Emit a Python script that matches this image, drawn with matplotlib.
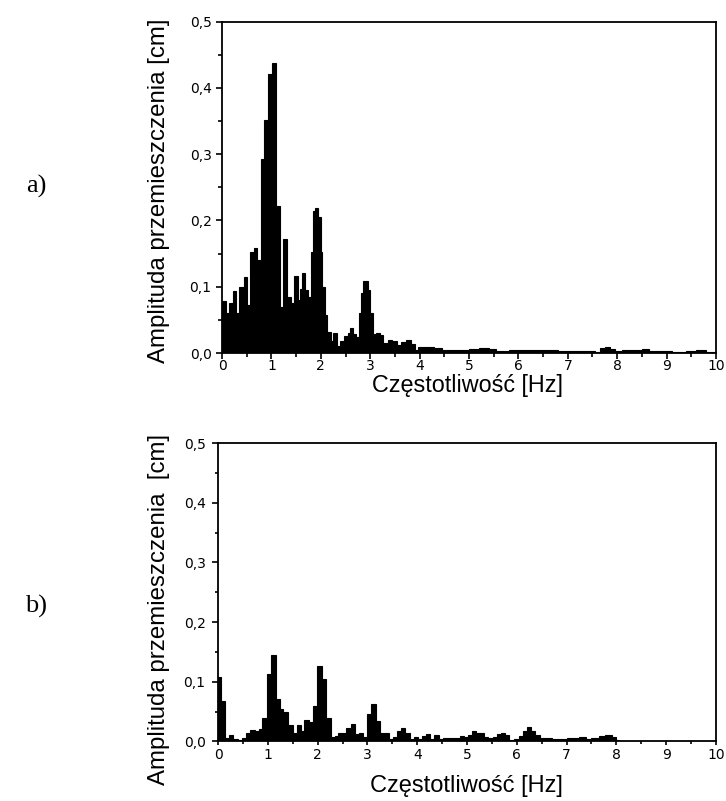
import numpy as np
import matplotlib
matplotlib.use("Agg")
import matplotlib.pyplot as plt
from matplotlib.ticker import MultipleLocator, FuncFormatter

# a) widmo amplitudy - krawedzie przedzialow [Hz] i amplitudy [cm]
edges_a = [0.0, 0.088, 0.135, 0.223, 0.291, 0.345, 0.439, 0.507, 0.561, 0.642,
           0.716, 0.791, 0.845, 0.932, 1.013, 1.101, 1.176, 1.23, 1.31, 1.40,
           1.45, 1.53, 1.57, 1.62, 1.69, 1.74, 1.80, 1.84, 1.89, 1.95,
           2.00, 2.03, 2.08, 2.13, 2.20, 2.25, 2.33, 2.39, 2.47, 2.55,
           2.59, 2.66, 2.72, 2.77, 2.81, 2.86, 2.91, 2.96, 3.00, 3.05,
           3.11, 3.20, 3.26, 3.36, 3.44, 3.55, 3.63, 3.72, 3.82, 3.90,
           3.97, 4.15, 4.30, 4.46, 4.60, 4.80, 5.00, 5.20, 5.40, 5.55,
           5.80, 6.00, 6.30, 6.60, 6.80, 7.00, 7.30, 7.55, 7.65, 7.75,
           7.85, 7.95, 8.10, 8.30, 8.50, 8.65, 8.90, 9.10, 9.40, 9.60,
           9.80, 10.0]
amp_a = [0.078, 0.060, 0.076, 0.093, 0.060, 0.099, 0.114, 0.072, 0.152, 0.158,
         0.141, 0.293, 0.352, 0.421, 0.437, 0.222, 0.070, 0.172, 0.085, 0.075,
         0.116, 0.080, 0.097, 0.120, 0.095, 0.085, 0.152, 0.215, 0.219, 0.205,
         0.152, 0.099, 0.058, 0.031, 0.018, 0.030, 0.010, 0.018, 0.026, 0.030,
         0.038, 0.028, 0.024, 0.060, 0.090, 0.108, 0.109, 0.095, 0.060, 0.028,
         0.030, 0.027, 0.015, 0.019, 0.018, 0.012, 0.016, 0.019, 0.013, 0.005,
         0.009, 0.009, 0.007, 0.005, 0.0045, 0.004, 0.0065, 0.007, 0.006, 0.0035,
         0.004, 0.005, 0.0045, 0.004, 0.003, 0.0035, 0.003, 0.002, 0.0075, 0.009,
         0.006, 0.0035, 0.004, 0.005, 0.006, 0.003, 0.0025, 0.002, 0.0035, 0.004,
         0.0015]

# b)
edges_b = [0.0, 0.067, 0.147, 0.213, 0.30, 0.40, 0.48, 0.567, 0.647, 0.733,
           0.813, 0.893, 0.98, 1.067, 1.16, 1.247, 1.313, 1.413, 1.50, 1.58,
           1.667, 1.733, 1.827, 1.913, 1.98, 2.08, 2.167, 2.26, 2.347, 2.413,
           2.50, 2.58, 2.667, 2.747, 2.833, 2.92, 3.00, 3.08, 3.18, 3.26,
           3.347, 3.427, 3.513, 3.60, 3.667, 3.76, 3.847, 3.933, 4.013, 4.093,
           4.18, 4.267, 4.347, 4.433, 4.52, 4.85, 4.933, 5.013, 5.093, 5.18,
           5.26, 5.347, 5.427, 5.513, 5.60, 5.68, 5.76, 5.847, 5.95, 6.05,
           6.12, 6.20, 6.28, 6.36, 6.46, 6.70, 7.00, 7.25, 7.38, 7.50,
           7.65, 7.78, 7.92, 8.00, 8.05, 10.0]
amp_b = [0.108, 0.068, 0.006, 0.011, 0.004, 0.002, 0.006, 0.015, 0.020, 0.017,
         0.021, 0.039, 0.113, 0.145, 0.071, 0.054, 0.050, 0.028, 0.014, 0.028,
         0.018, 0.036, 0.032, 0.060, 0.126, 0.105, 0.040, 0.007, 0.0095, 0.015,
         0.014, 0.022, 0.029, 0.013, 0.014, 0.008, 0.046, 0.063, 0.035, 0.014,
         0.014, 0.004, 0.007, 0.017, 0.022, 0.014, 0.004, 0.008, 0.004, 0.0095,
         0.012, 0.004, 0.011, 0.004, 0.0056, 0.0095, 0.007, 0.011, 0.017, 0.015,
         0.015, 0.008, 0.0056, 0.008, 0.012, 0.015, 0.011, 0.003, 0.004, 0.009,
         0.018, 0.025, 0.018, 0.011, 0.006, 0.0045, 0.0056, 0.007, 0.0045, 0.006,
         0.0084, 0.011, 0.0073, 0.002, 0.0]

xlabel = "Częstotliwość [Hz]"
ylabels = ["Amplituda przemieszczenia [cm]", "Amplituda przemieszczenia  [cm]"]
panel_tags = ["a)", "b)"]

plt.rcParams['font.family'] = ['Liberation Sans', 'DejaVu Sans']

fig = plt.figure(figsize=(7.26, 8.01), dpi=100)
ax_a = fig.add_axes([0.3058, 0.5593, 0.6804, 0.4136])
ax_b = fig.add_axes([0.3003, 0.0743, 0.6859, 0.3726])

comma = FuncFormatter(lambda v, p: f"{v:.1f}".replace(".", ","))

for ax, edges, amp in [(ax_a, edges_a, amp_a), (ax_b, edges_b, amp_b)]:
    ax.stairs(amp, edges, fill=True, facecolor='black', edgecolor='black',
              linewidth=0.8)
    ax.set_xlim(0, 10)
    ax.set_ylim(0, 0.5)
    ax.xaxis.set_major_locator(MultipleLocator(1))
    ax.xaxis.set_minor_locator(MultipleLocator(0.5))
    ax.yaxis.set_major_locator(MultipleLocator(0.1))
    ax.yaxis.set_minor_locator(MultipleLocator(0.05))
    ax.yaxis.set_major_formatter(comma)
    ax.tick_params(which='both', direction='out', width=1.2, top=False,
                   right=False)
    for lab in ax.get_xticklabels() + ax.get_yticklabels():
        lab.set_family(['DejaVu Sans'])
        lab.set_fontsize(10)
    for s in ax.spines.values():
        s.set_linewidth(1.3)

ax_a.tick_params(axis='x', which='major', length=4, pad=0)
ax_a.tick_params(axis='x', which='minor', length=3)
ax_a.tick_params(axis='y', which='major', length=4.5, pad=3)
ax_a.tick_params(axis='y', which='minor', length=3)
ax_b.tick_params(axis='x', which='major', length=3, pad=2)
ax_b.tick_params(axis='x', which='minor', length=2)
ax_b.tick_params(axis='y', which='major', length=4, pad=5)
ax_b.tick_params(axis='y', which='minor', length=2.5)

# etykiety osi
fig.text(468 / 726, 1 - 385 / 801, xlabel, ha='center', va='center',
         fontsize=16.8)
fig.text(466 / 726, 1 - 786 / 801, xlabel, ha='center', va='center',
         fontsize=17)
fig.text(159 / 726, 1 - 191 / 801, ylabels[0], rotation=90, ha='center',
         va='center', fontsize=17.3)
fig.text(159 / 726, 1 - 609 / 801, ylabels[1], rotation=90, ha='center',
         va='center', fontsize=17.3)

fig.text(36 / 726, 1 - 186 / 801, panel_tags[0], ha='center', va='center',
         fontsize=19, family=['Liberation Serif', 'DejaVu Serif'])
fig.text(36 / 726, 1 - 606 / 801, panel_tags[1], ha='center', va='center',
         fontsize=19, family=['Liberation Serif', 'DejaVu Serif'])

fig.savefig("out.png", dpi=100)
